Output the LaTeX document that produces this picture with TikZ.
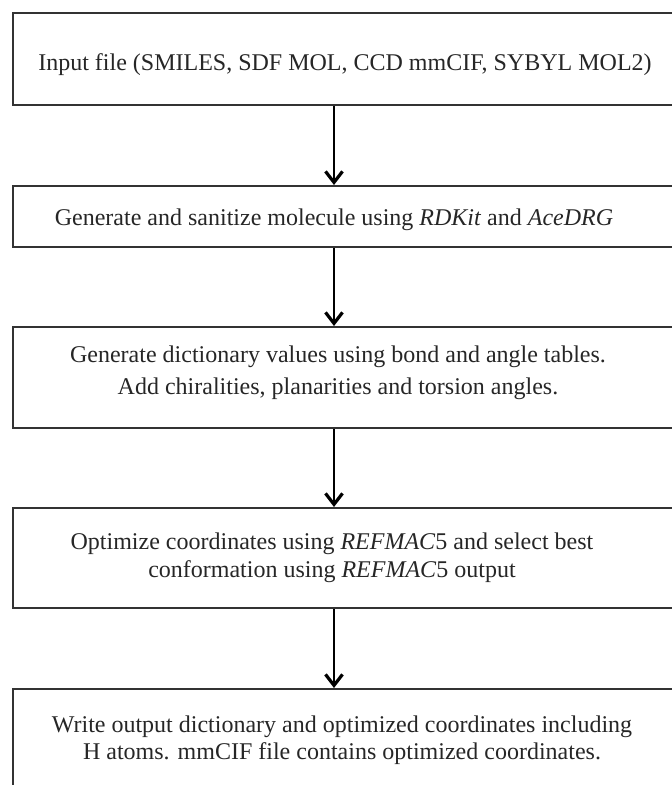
\documentclass[tikz,border=0pt]{standalone}
\usepackage{fontspec}
\setmainfont{Liberation Serif}
\usetikzlibrary{arrows.meta}
\begin{document}
\begin{tikzpicture}[x=1pt,y=-1pt,
  box/.style={draw=black!80,line width=2pt,rectangle,anchor=north west,minimum width=700pt,inner sep=0pt},
  txt/.style={font=\fontsize{24}{28}\selectfont,align=center,text=black!85,inner sep=0pt},
  arr/.style={line width=2pt,draw=black,-{Straight Barb[length=11pt,width=17pt,line width=3.2pt]}}]
\useasboundingbox (0,0) rectangle (672,785);
\clip (0,0) rectangle (672,785);
\node[box,minimum height=92pt] (b1) at (12,12) {};
\node[box,minimum height=61pt] (b2) at (12,185) {};
\node[box,minimum height=101pt] (b3) at (12,326) {};
\node[box,minimum height=100pt] (b4) at (12,507) {};
\node[box,minimum height=140pt] (b5) at (12,688) {};
\node[txt] (t1) at (345,65) {Input file (SMILES, SDF MOL, CCD mmCIF, SYBYL MOL2)};
\node[txt] (t2) at (334,220) {Generate and sanitize molecule using \textit{RDKit} and \textit{AceDRG}};
\node[txt,font=\fontsize{24}{32}\selectfont] (t3) at (338,373) {Generate dictionary values using bond and angle tables.\\Add chiralities, planarities and torsion angles.};
\node[txt] (t4) at (332,558) {Optimize coordinates using \textit{REFMAC}5 and select best\\conformation using \textit{REFMAC}5 output};
\node[txt,font=\fontsize{24}{27}\selectfont] (t5) at (342,740) {Write output dictionary and optimized coordinates including\\H atoms. mmCIF file contains optimized coordinates.};
\coordinate (ax) at (334,0);
\draw[arr] (b1.south -| ax) -- (b2.north -| ax);
\draw[arr] (b2.south -| ax) -- (b3.north -| ax);
\draw[arr] (b3.south -| ax) -- (b4.north -| ax);
\draw[arr] (b4.south -| ax) -- (b5.north -| ax);
\end{tikzpicture}
\end{document}
